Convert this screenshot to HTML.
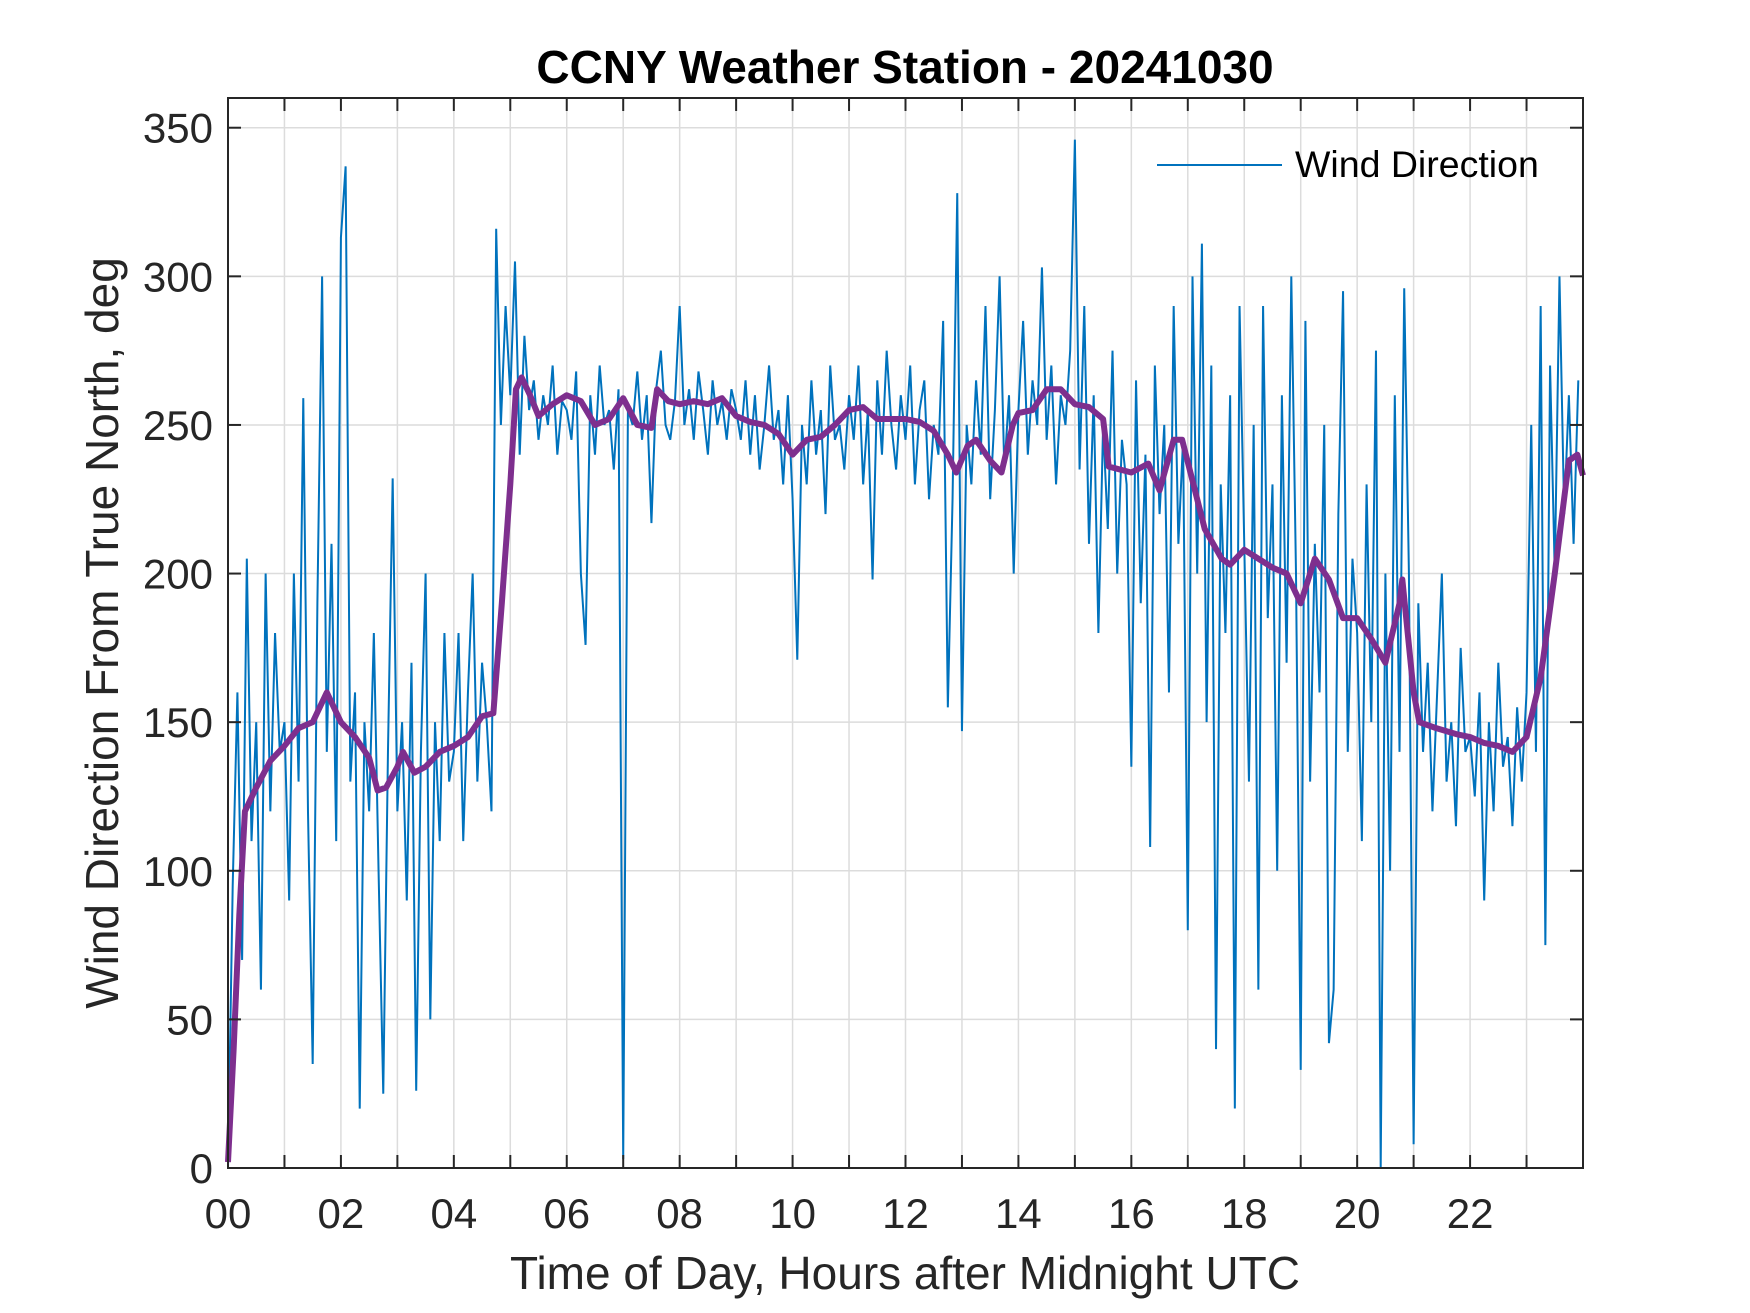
<!DOCTYPE html>
<html><head><meta charset="utf-8"><style>
html,body{margin:0;padding:0;background:#fff;}
svg{display:block;font-family:"Liberation Sans",Arial,sans-serif;}
</style></head><body>
<svg id="chart" width="1750" height="1313" viewBox="0 0 1750 1313" xmlns="http://www.w3.org/2000/svg">
<rect width="1750" height="1313" fill="#fff"/>
<g id="grid"></g>
<g id="series"></g>
<g id="axes"></g>
<text x="905" y="83" text-anchor="middle" font-size="46" font-weight="bold" fill="#000">CCNY Weather Station - 20241030</text>
<text x="905" y="1289" text-anchor="middle" font-size="46" fill="#262626">Time of Day, Hours after Midnight UTC</text>
<text transform="translate(118,633) rotate(-90)" text-anchor="middle" font-size="46" fill="#262626">Wind Direction From True North, deg</text>
<g>
<line x1="1157" y1="165" x2="1282" y2="165" stroke="#0072BD" stroke-width="2"/>
<text x="1295" y="177" font-size="37.5" fill="#000">Wind Direction</text>
</g>
</svg>
<script>
const windValues = [
0,95,160,70,205,110,150,60,200,120,180,140,
150,90,200,130,259,120,35,190,300,140,210,110,
313,337,130,160,20,150,120,180,100,25,140,232,
120,150,90,170,26,140,200,50,150,110,180,130,
140,180,110,160,200,130,170,150,120,316,250,290,
260,305,240,280,255,265,245,260,250,270,240,258,
255,245,268,200,176,260,240,270,250,255,235,262,
3,255,250,268,245,260,217,262,275,250,245,258,
290,250,262,245,268,255,240,265,250,258,245,262,
255,245,265,240,260,235,250,270,245,255,230,260,
225,171,250,230,265,240,255,220,270,245,250,235,
260,245,270,230,255,198,265,240,275,250,235,260,
245,270,230,255,265,225,250,240,285,155,225,328,
147,250,230,265,240,290,225,255,300,235,260,200,
255,285,240,265,250,303,245,270,230,260,250,275,
346,235,290,210,260,180,250,215,275,200,245,230,
135,265,190,240,108,270,220,250,160,290,210,245,
80,300,200,311,150,270,40,230,180,260,20,290,
210,130,250,60,290,185,230,100,260,170,300,200,
33,285,130,210,160,250,42,60,220,295,140,205,
180,110,230,150,275,0,200,100,260,140,296,200,
8,190,140,170,120,160,200,130,150,115,175,140,
145,125,160,90,150,120,170,135,145,115,155,130,
160,250,140,290,75,270,200,300,220,260,210,265
];
const windStepHours = 5/60;
const smoothHours = [0,0.1,0.2,0.3,0.5,0.75,1,1.25,1.5,1.75,2,2.25,2.5,2.65,2.8,3,3.1,3.3,3.5,3.75,4,4.25,4.5,4.7,4.85,5,5.1,5.2,5.35,5.5,5.75,6,6.25,6.5,6.75,7,7.25,7.5,7.6,7.8,8,8.25,8.5,8.75,9,9.25,9.5,9.75,10,10.25,10.5,10.75,11,11.25,11.5,11.75,12,12.25,12.5,12.75,12.9,13.1,13.25,13.5,13.7,13.9,14,14.25,14.5,14.75,15,15.25,15.5,15.6,16,16.3,16.5,16.75,16.9,17.1,17.3,17.6,17.75,18,18.25,18.5,18.75,19,19.25,19.5,19.75,20,20.25,20.5,20.75,20.8,21,21.1,21.4,21.75,22,22.25,22.5,22.75,23,23.25,23.5,23.75,23.9,24];
const smoothValues = [2,40,85,120,128,137,142,148,150,160,150,145,138,127,128,135,140,133,135,140,142,145,152,153,190,230,262,266,260,253,257,260,258,250,252,259,250,249,262,258,257,258,257,259,253,251,250,247,240,245,246,250,255,256,252,252,252,251,248,240,234,243,245,238,234,250,254,255,262,262,257,256,252,236,234,237,228,245,245,230,215,205,203,208,205,202,200,190,205,198,185,185,178,170,190,198,160,150,148,146,145,143,142,140,145,165,200,238,240,233];
const xTickHours = [0,1,2,3,4,5,6,7,8,9,10,11,12,13,14,15,16,17,18,19,20,21,22,23];
const xTickLabels = ["00","","02","","04","","06","","08","","10","","12","","14","","16","","18","","20","","22",""];
const yTickValues = [0,50,100,150,200,250,300,350];

const L=228,R=1583,T=98,B=1168,XMAX=24,YMAX=360;
const xs=h=>L+(h/XMAX)*(R-L);
const ys=v=>B-(v/YMAX)*(B-T);
const NS="http://www.w3.org/2000/svg";
function mk(tag,attrs,parent){const e=document.createElementNS(NS,tag);for(const k in attrs)e.setAttribute(k,attrs[k]);parent.appendChild(e);return e;}
const grid=document.getElementById('grid'),series=document.getElementById('series'),axes=document.getElementById('axes');

xTickHours.forEach((h,i)=>{
  const g=mk('line',{x1:xs(h),x2:xs(h),y1:T,y2:B,stroke:'#dcdcdc','stroke-width':1.5},grid);
  
  
  const t1=mk('line',{x1:xs(h),x2:xs(h),y1:B,y2:B-13,stroke:'#262626','stroke-width':2},axes);
  
  
  const t2=mk('line',{x1:xs(h),x2:xs(h),y1:T,y2:T+13,stroke:'#262626','stroke-width':2},axes);
  
  
  if(xTickLabels[i]){
    const tx=mk('text',{x:xs(h),y:1228,'text-anchor':'middle','font-size':42,fill:'#262626'},axes);
    tx.textContent=xTickLabels[i];
    
    
  }
});
yTickValues.forEach(v=>{
  const g=mk('line',{x1:L,x2:R,y1:ys(v),y2:ys(v),stroke:'#dcdcdc','stroke-width':1.5},grid);
  
  
  const t1=mk('line',{x1:L,x2:L+13,y1:ys(v),y2:ys(v),stroke:'#262626','stroke-width':2},axes);
  
  
  const t2=mk('line',{x1:R,x2:R-13,y1:ys(v),y2:ys(v),stroke:'#262626','stroke-width':2},axes);
  
  
  const tx=mk('text',{x:L-15,y:ys(v)+15,'text-anchor':'end','font-size':42,fill:'#262626'},axes);
  tx.textContent=String(v);
  
  
});
const box=mk('rect',{x:L,y:T,width:R-L,height:B-T,fill:'none',stroke:'#262626','stroke-width':2},axes);



const blue=mk('polyline',{points:windValues.map((v,i)=>xs(i*windStepHours)+','+ys(v)).join(' '),fill:'none',stroke:'#0072BD','stroke-width':2,'stroke-linejoin':'miter'},series);


const purple=mk('polyline',{points:smoothValues.map((v,i)=>xs(smoothHours[i])+','+ys(v)).join(' '),fill:'none',stroke:'#7E2F8E','stroke-width':6,'stroke-linejoin':'round'},series);


</script>
</body></html>
